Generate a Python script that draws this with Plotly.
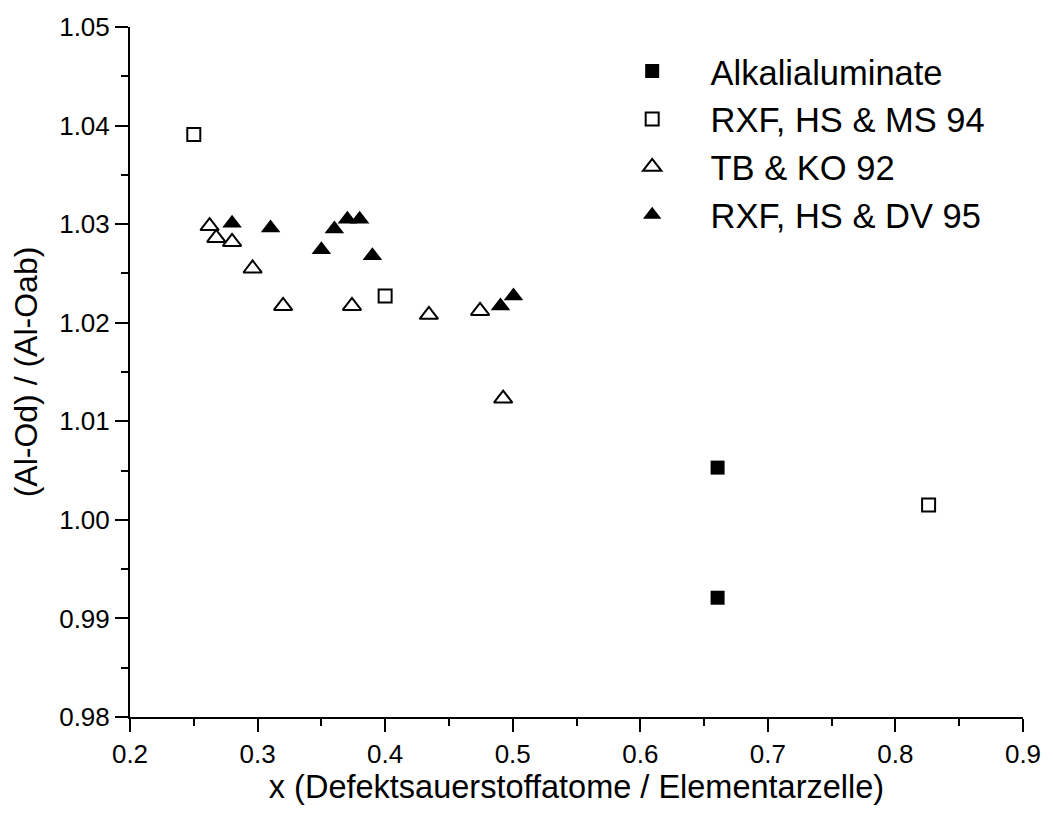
import plotly.graph_objects as go

# Data
alk_x = [0.6606, 0.6606]
alk_y = [1.0053, 0.9921]

rxf94_x = [0.250, 0.400, 0.826]
rxf94_y = [1.0391, 1.0227, 1.0015]

tbko_x = [0.2624, 0.2676, 0.280, 0.2961, 0.320, 0.374, 0.4343, 0.4744, 0.4925]
tbko_y = [1.0298, 1.0286, 1.0282, 1.0255, 1.0217, 1.0217, 1.0208, 1.0212, 1.0123]

dv95_x = [0.280, 0.3102, 0.350, 0.3602, 0.3704, 0.380, 0.390, 0.4904, 0.5006]
dv95_y = [1.0301, 1.0296, 1.0274, 1.0295, 1.0305, 1.0305, 1.0268, 1.0217, 1.0227]

names = ["Alkalialuminate", "RXF, HS & MS 94", "TB & KO 92", "RXF, HS & DV 95"]

x_ticks = [0.2, 0.3, 0.4, 0.5, 0.6, 0.7, 0.8, 0.9]
y_ticks = [0.98, 0.99, 1.00, 1.01, 1.02, 1.03, 1.04, 1.05]

FONT = "Liberation Sans, Arial, sans-serif"
pad = "\u00a0" * 4

fig = go.Figure()
fig.add_trace(go.Scatter(x=alk_x, y=alk_y, mode="markers", name=pad + names[0],
                         marker=dict(symbol="square", size=14, color="black",
                                     line=dict(width=0))))
fig.add_trace(go.Scatter(x=rxf94_x, y=rxf94_y, mode="markers", name=pad + names[1],
                         marker=dict(symbol="square-open", size=13, color="black",
                                     line=dict(width=2, color="black"))))
fig.add_trace(go.Scatter(x=tbko_x, y=tbko_y, mode="markers", name=pad + names[2],
                         marker=dict(symbol="triangle-up-open", size=16, color="black",
                                     line=dict(width=2, color="black"))))
fig.add_trace(go.Scatter(x=dv95_x, y=dv95_y, mode="markers", name=pad + names[3],
                         marker=dict(symbol="triangle-up", size=17, color="black",
                                     line=dict(width=0))))

axis_common = dict(
    showgrid=False, zeroline=False, showline=True, linecolor="black", linewidth=2,
    ticks="outside", ticklen=13, tickwidth=2, tickcolor="black",
    tickfont=dict(family=FONT, size=26, color="black"),
)

fig.update_layout(
    width=1053, height=814,
    margin=dict(l=130, r=25, t=19, b=97),
    plot_bgcolor="white", paper_bgcolor="white",
    showlegend=True,
    legend=dict(x=(635 - 130) / 898, xanchor="left", y=0.978, yanchor="top",
                bgcolor="rgba(0,0,0,0)", font=dict(family=FONT, size=34.5, color="black"),
                itemsizing="trace"),
    xaxis=dict(range=[0.2, 0.9], tickvals=x_ticks, ticktext=[f"{v:.1f}" for v in x_ticks],
               minor=dict(dtick=0.05, ticks="outside", ticklen=7, tickwidth=2, tickcolor="black"),
               title=dict(text="x (Defektsauerstoffatome / Elementarzelle)",
                          font=dict(family=FONT, size=32.5, color="black"), standoff=0),
               **axis_common),
    yaxis=dict(range=[0.98, 1.05], tickvals=y_ticks, ticktext=[f"{v:.2f}" for v in y_ticks],
               minor=dict(dtick=0.005, ticks="outside", ticklen=7, tickwidth=2, tickcolor="black"),
               title=dict(text="(Al-Od) / (Al-Oab)",
                          font=dict(family=FONT, size=32, color="black"), standoff=12),
               **axis_common),
    xaxis2=dict(overlaying="x", side="top", range=[0.2, 0.9], showgrid=False, zeroline=False,
                showline=True, linecolor="black", linewidth=2, ticks="outside", ticklen=3,
                tickwidth=2, tickcolor="black", tickvals=x_ticks, showticklabels=False,
                minor=dict(dtick=0.05, ticks="outside", ticklen=3, tickwidth=2, tickcolor="black")),
    yaxis2=dict(overlaying="y", side="right", range=[0.98, 1.05], showgrid=False, zeroline=False,
                showline=True, linecolor="black", linewidth=2, ticks="outside", ticklen=4,
                tickwidth=2, tickcolor="black", tickvals=y_ticks, showticklabels=False,
                minor=dict(dtick=0.005, ticks="outside", ticklen=4, tickwidth=2, tickcolor="black")),
)

fig.write_html("out.html")
